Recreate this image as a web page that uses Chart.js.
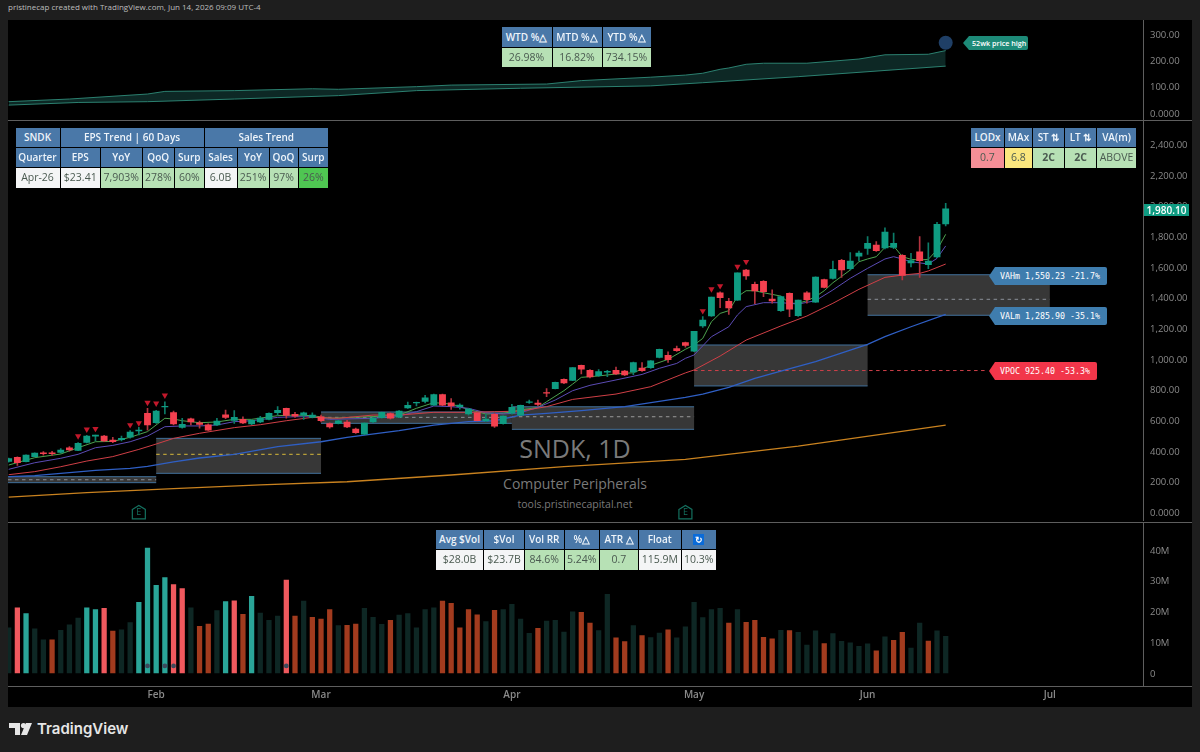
<!DOCTYPE html>
<html>
<head>
<meta charset="utf-8">
<title>SNDK, 1D</title>
<script src="https://cdn.jsdelivr.net/npm/chart.js@4/dist/chart.umd.min.js"></script>
<style>
  html, body { margin: 0; padding: 0; background: #1e1e1e; width: 1200px; height: 752px; overflow: hidden; }
  body { font-family: "Open Sans", sans-serif; position: relative; }
  #pane { position: absolute; left: 8px; top: 20px; width: 1184px; height: 687px; background: #000; }
  canvas { position: absolute; left: 8px; }
  .sep { position: absolute; left: 8px; width: 1184px; height: 1px; background: #5e5e5e; }
  .cell { position: absolute; text-align: center; font-size: 10.5px; white-space: nowrap; color: #4a5a50; }
  .head { background: #4a78a8; color: #eef4fa; font-weight: 600; font-size: 10px; }
  .tag { position: absolute; color: #fff; font-family: "DejaVu Sans Mono", monospace; font-size: 8.3px; line-height: 18px; height: 18px;
         clip-path: polygon(6px 0, 100% 0, 100% 100%, 6px 100%, 0 50%); padding-left: 11px; box-sizing: border-box; border-radius: 2px; }
  .mark { position: absolute; text-align: center; color: #7a7a7a; white-space: nowrap; }
</style>
</head>
<body>
<div id="pane"></div>
<div style="position:absolute;left:8px;top:0;font-size:8px;line-height:14px;color:#bdbdbd">pristinecap created with TradingView.com, Jun 14, 2026 09:09 UTC-4</div>
<div class="mark" style="left:475px;width:200px;top:429px;font-size:25px;line-height:38px">SNDK, 1D</div>
<div class="mark" style="left:475px;width:200px;top:474px;font-size:14px;line-height:20px">Computer Peripherals</div>
<div class="mark" style="left:475px;width:200px;top:497px;font-size:10.5px;line-height:15px">tools.pristinecapital.net</div>
<canvas id="topChart" width="1184" height="100" style="top:20px"></canvas>
<canvas id="mainChart" width="1184" height="400" style="top:121px"></canvas>
<canvas id="volChart" width="1184" height="184" style="top:523px"></canvas>
<div class="sep" style="top:120px"></div>
<div class="sep" style="top:522px"></div>
<div class="sep" style="top:686px"></div>
<svg style="position:absolute;left:9px;top:722px" width="24" height="14" viewBox="0 0 24 14">
  <path d="M0 1h11v12H6V6H0z" fill="#e6e6e6"/><circle cx="14.5" cy="3.6" r="2.6" fill="#e6e6e6"/><path d="M17 1h6l-5 12h-6z" fill="#e6e6e6"/>
</svg>
<div style="position:absolute;left:37px;top:718px;font-family:Inter,sans-serif;font-weight:600;font-size:15px;line-height:22px;color:#e6e6e6">TradingView</div>

<script>
// bars are trading days, index 0 is the first bar on the left edge
const months = ['Feb', 'Mar', 'Apr', 'May', 'Jun', 'Jul'];
const monthBars = [17, 36, 58, 79, 99, 120];
const earningsBars = [15, 78];

const priceTicks = [2400, 2200, 2000, 1800, 1600, 1400, 1200, 1000, 800, 600, 400, 200, 0];
const topTicks = [300, 200, 100, 0];
const volTicks = [40, 30, 20, 10, 0];

const opens = [333,359,331,364,389,389,392,422,405,457,498,498,472,474,490,531,646,585,688,651,555,611,585,572,570,637,600,607,577,590,607,650,679,640,635,620,624,579,581,590,544,511,590,618,644,622,681,714,724,700,768,714,690,642,650,596,640,579,648,635,718,713,781,807,868,861,959,927,892,914,927,922,916,942,944,1011,1024,1068,1107,1051,1216,1281,1433,1377,1385,1581,1488,1507,1392,1316,1429,1283,1433,1372,1518,1527,1644,1590,1672,1722,1744,1725,1729,1677,1627,1699,1616,1666,1881];
const highs = [355,363,376,389,396,398,416,429,455,503,505,503,490,498,533,555,679,666,722,661,614,616,596,578,614,668,664,624,605,627,650,690,681,653,655,650,635,585,600,600,550,585,620,655,650,664,720,720,764,772,772,742,709,679,655,640,646,630,705,700,733,733,807,850,872,945,961,931,931,927,948,927,981,977,990,1065,1048,1085,1111,1181,1277,1405,1438,1396,1563,1585,1503,1512,1451,1411,1433,1385,1440,1537,1522,1640,1651,1694,1705,1799,1766,1857,1822,1681,1690,1799,1759,1892,2016];
const lows = [327,307,329,362,374,372,387,400,403,453,466,461,455,466,485,505,537,581,642,570,550,570,550,535,566,611,581,579,572,585,603,635,614,620,607,616,590,550,577,553,515,507,585,614,609,618,679,694,714,698,696,672,674,635,597,592,555,576,640,632,711,694,755,805,840,859,903,877,887,885,898,892,898,920,940,1008,979,1050,1077,1049,1207,1279,1335,1292,1383,1520,1362,1407,1364,1311,1277,1279,1364,1370,1464,1522,1533,1581,1642,1683,1703,1718,1720,1516,1601,1533,1590,1662,1868];
const closes = [351,324,374,387,383,383,407,407,450,498,505,466,461,483,524,537,570,661,692,577,574,590,574,537,596,620,620,583,600,616,646,666,633,627,650,635,598,557,598,557,520,583,616,653,614,661,698,718,748,768,700,694,700,674,598,609,563,629,685,698,722,705,777,848,844,944,935,883,918,920,903,896,977,924,988,1064,996,1055,1090,1181,1255,1405,1401,1333,1562,1542,1444,1440,1379,1407,1325,1385,1388,1535,1468,1585,1581,1640,1692,1755,1707,1829,1755,1546,1642,1642,1640,1879,1980.1];

// volume in millions, and its colour class per bar
const volumes = [14.7,21.2,19.3,14.4,10.8,10.8,13.9,15.7,17.9,21.2,20.6,21,13.6,14,16.4,23,40.6,28.5,31,28.8,27.5,21.2,15.2,15.9,20.3,23.2,23.5,19.1,24.9,19.5,17.1,18.5,30.2,18.5,23.4,18.1,17.5,20.6,15.4,15.5,15.9,21,18.1,15.8,17.1,18.8,19.3,14.7,20.6,21.2,23.4,22.7,14.7,20.6,18.9,16.7,20.4,20.6,22.3,17.5,12.9,14.5,16.9,17.1,13.3,19.9,19.7,16.2,13.8,25.6,11.4,10.2,15.4,12.2,11.5,13,14,11.4,15,23,18,20.6,21,16.2,20.6,16.5,17.1,11.6,11.1,13.9,13.8,13.2,9.1,13.7,9.6,12.8,10.3,9.8,8.7,9.5,7.2,11.8,10.6,13.2,8.1,16.2,10.4,13.7,11.9];
const volKinds = ['d','r','t','d','d','o','d','d','d','t','t','r','o','d','d','t','t','t','t','r','r','d','o','o','d','t','r','o','t','d','d','d','r','o','d','o','o','o','d','o','o','d','d','d','o','d','d','d','d','d','o','o','o','o','o','d','o','d','d','d','d','o','d','d','d','d','o','o','d','d','o','o','d','o','d','d','o','d','d','d','d','d','d','o','d','o','o','o','o','d','o','d','d','d','o','d','d','d','d','d','o','d','o','o','d','d','o','d','d'];
const volDotBars = [16, 18, 19, 32];
const volDotValue = 2.3;

// moving averages, read at the bars below
const fastBars = [0,3,6,8,10,12,14,16,18,19,20,22,24,26,28,31,33,35,37,42,45,47,49,51,53,55,57,59,61,62,64,65,66,68,70,72,74,76,78,79,80,81,82,83,84,85,86,87,89,90,91,92,93,94,95,97,98,99,100,101,102,103,104,105,106,107,108];
const fastVals = [309,357,381,422,461,463,490,527,614,609,598,585,590,607,607,631,635,631,614,625,635,679,716,707,672,642,646,668,685,722,794,837,881,890,903,911,959,998,1064,1092,1135,1244,1298,1316,1407,1446,1446,1433,1411,1364,1364,1381,1407,1446,1498,1581,1635,1653,1668,1729,1738,1668,1651,1646,1651,1712,1814];
const midBars = [0,3,6,8,10,12,14,16,18,20,22,24,26,28,31,33,35,37,42,45,47,49,51,53,55,57,59,61,63,65,67,70,73,75,77,78,79,81,83,84,85,87,89,91,93,95,97,99,101,102,103,104,106,107,108];
const midVals = [281,324,353,379,422,437,461,498,559,564,564,570,592,598,620,624,624,607,614,629,657,694,690,679,650,642,650,685,733,794,829,864,900,940,972,1005,1027,1146,1211,1288,1342,1368,1368,1359,1381,1451,1527,1592,1653,1668,1653,1635,1620,1657,1738];
const slowBars = [0,3,6,9,12,15,17,19,22,26,29,32,35,38,42,45,49,53,56,59,62,65,70,74,78,79,82,85,89,92,95,98,101,103,105,106,108];
const slowVals = [246,266,298,335,364,411,446,483,516,553,572,598,620,614,635,635,653,653,657,661,690,737,772,820,910,929,1020,1124,1216,1281,1364,1455,1533,1548,1559,1575,1620];
const longBars = [0,3,6,10,14,16,19,22,26,31,36,39,45,49,53,56,59,62,66,71,78,80,83,86,89,93,99,101,104,108];
const longVals = [233,240,255,274,287,300,329,355,379,429,461,490,533,570,592,598,635,646,664,690,751,772,816,874,922,983,1096,1146,1211,1292];
const yearBars = [0,9,19,29,39,51,64,78,91,108];
const yearVals = [100,129,155,179,200,244,298,346,433,570];

// sell signal markers above the candles
const signalBars = [8,9,10,14,15,16,17,18,80,81,82,84,85];
const signalVals = [498,542,546,570,583,716,711,764,1314,1457,1477,1603,1635];

// volume profile boxes per period
const boxStart = [-0.08,17,36,58,79,99];
const boxEnd = [17,36,58,79,99,120];
const boxHigh = [233,483,655,689,1092,1550.23];
const boxLow = [194,255,581,542,825,1285.9];
const boxMid = [213,379,620,624,925.4,1390];
const boxMidColors = ['#8a8f98','#d8b93a','#8a8f98','#9a9a9a','#d0404a','#8a8f98'];

// 52 week high pane
const highBandBars = [0,7,16,18,26,35,38,47,51,62,66,74,78,80,82,83,85,87,92,98,101,106,108];
const highBandVals = [43,53,72,82,85,92,90,100,106,110,123,136,144,151,166,171,185,189,189,205,221,223,237];
const lowBandBars = [0,8,16,26,38,47,59,74,80,91,108];
const lowBandVals = [30,40,43,53,66,85,94,103,115,138,178];
const highMarkBar = 108;
const highMarkValue = 267;

// stat tables
const wtdHead = ['WTD %△', 'MTD %△', 'YTD %△'];
const wtdRow = ['26.98%', '16.82%', '734.15%'];
const epsHeadA = ['SNDK', 'EPS Trend | 60 Days', 'Sales Trend'];
const epsHeadB = ['Quarter', 'EPS', 'YoY', 'QoQ', 'Surp', 'Sales', 'YoY', 'QoQ', 'Surp'];
const epsRow = ['Apr-26', '$23.41', '7,903%', '278%', '60%', '6.0B', '251%', '97%', '26%'];
const lodHead = ['LODx', 'MAx', 'ST ⇅', 'LT ⇅', 'VA(m)'];
const lodRow = ['0.7', '6.8', '2C', '2C', 'ABOVE'];
const volHead = ['Avg $Vol', '$Vol', 'Vol RR', '%△', 'ATR △', 'Float', '↻'];
const volRow = ['$28.0B', '$23.7B', '84.6%', '5.24%', '0.7', '115.9M', '10.3%'];

const GREEN = '#b7e1b5', WHITE = '#f4f5f6', PINK = '#f58f97', YELLOW = '#fbe77e', BRIGHT = '#4fc652';

function addCell(x0, x1, y0, y1, text, cls, bg) {
    const d = document.createElement('div');
    d.className = 'cell ' + (cls || '');
    d.textContent = text;
    d.style.left = (x0 + 0.5) + 'px';
    d.style.width = (x1 - x0 - 1) + 'px';
    d.style.top = y0 + 'px';
    d.style.height = (y1 - y0 - 1) + 'px';
    d.style.lineHeight = (y1 - y0 - 1) + 'px';
    if (bg) d.style.background = bg;
    document.body.appendChild(d);
    return d;
}

function addRow(edges, y0, y1, texts, cls, bgs) {
    return texts.map((t, i) => addCell(edges[i], edges[i + 1], y0, y1, t, cls, bgs ? bgs[i] : null));
}

addRow([501, 552, 602, 651], 27, 48, wtdHead, 'head');
addRow([501, 552, 602, 651], 48, 68, wtdRow, '', [GREEN, GREEN, GREEN]);

const epsEdges = [15, 60, 100.5, 142, 174.5, 204, 237, 269, 298, 328.5];
addRow([15, 60, 204, 328.5], 127.5, 148, epsHeadA, 'head');
addRow(epsEdges, 148, 168, epsHeadB, 'head');
addRow(epsEdges, 168, 188.5, epsRow, '', [WHITE, WHITE, GREEN, GREEN, GREEN, WHITE, GREEN, GREEN, BRIGHT]);

const lodEdges = [970.5, 1004.5, 1032.5, 1064.5, 1096.5, 1136.5];
addRow(lodEdges, 127.5, 148, lodHead, 'head');
const lodCells = addRow(lodEdges, 148, 168.5, lodRow, '', [PINK, YELLOW, GREEN, GREEN, GREEN]);
lodCells[2].style.fontWeight = lodCells[3].style.fontWeight = '700';

const volEdges = [435.5, 483.5, 524.5, 564, 599.5, 638.5, 681, 716.5];
const volHeadCells = addRow(volEdges, 530, 550, volHead, 'head');
volHeadCells[6].innerHTML = '<span style="display:inline-block;width:11px;height:11px;line-height:11px;background:#0a6bd8;color:#fff;font-size:9px;font-weight:700">↻</span>';
addRow(volEdges, 550, 570.5, volRow, '', [WHITE, WHITE, GREEN, GREEN, GREEN, WHITE, WHITE]);

function addTag(left, top, width, color, text) {
    const d = document.createElement('div');
    d.className = 'tag';
    d.textContent = text;
    d.style.left = left + 'px';
    d.style.top = top + 'px';
    d.style.width = width + 'px';
    d.style.background = color;
    document.body.appendChild(d);
    return d;
}
addTag(989, 267, 118, '#3f7dae', 'VAHm 1,550.23 -21.7%');
addTag(989, 307, 118, '#3f7dae', 'VALm 1,285.90 -35.1%');
addTag(989, 362, 108, '#f2364a', 'VPOC 925.40 -53.3%');
const hi = addTag(963, 36, 65, '#1d8a78', '52wk price high');
hi.style.height = '14px';
hi.style.lineHeight = '14px';
hi.style.fontFamily = '"Open Sans", sans-serif';
hi.style.fontSize = '7.2px';
hi.style.fontWeight = '600';
hi.style.paddingLeft = '9px';
const last = addCell(1143.5, 1189.5, 203.5, 217, '1,980.10', '', '#0f9b82');
last.style.color = '#fff';
last.style.fontSize = '10px';
last.style.fontWeight = '600';

const pts = (bars, vals) => bars.map((b, i) => ({ x: b, y: vals[i] }));

// same x range and same axis width in all three panes
const xRange = { min: -0.08, max: 130.8 };
const noPad = s => { s.paddingLeft = 0; s.paddingRight = 0; s.paddingTop = 0; s.paddingBottom = 0; };

function yAxis(min, max, ticks, fmt) {
    return {
        position: 'right', min, max,
        afterBuildTicks: s => { s.ticks = ticks.map(v => ({ value: v })); },
        afterFit: s => { s.width = 48.5; noPad(s); },
        grid: { display: false, drawTicks: false },
        border: { display: true, color: '#5e5e5e' },
        ticks: { color: '#8a8a8a', padding: 6.5, labelOffset: 1, font: { family: '"Open Sans"', size: 9.5 }, callback: fmt }
    };
}

function xHidden() {
    return { type: 'linear', offset: false, display: false, min: xRange.min, max: xRange.max, afterFit: noPad };
}

const baseOptions = {
    responsive: false,
    animation: false,
    layout: { padding: 0, autoPadding: false },
    plugins: { legend: { display: false }, tooltip: { enabled: false } }
};

const priceLabel = v => v === 0 ? '0.0000' : v.toLocaleString('en-US', { minimumFractionDigits: 2, maximumFractionDigits: 2 });

new Chart(document.getElementById('topChart').getContext('2d'), {
    type: 'line',
    data: {
        datasets: [
            { data: pts(highBandBars, highBandVals), borderColor: '#2c8070', borderWidth: 1, pointRadius: 0, tension: 0, fill: 1, backgroundColor: '#0d2825', order: 3 },
            { data: pts(lowBandBars, lowBandVals), borderColor: '#2c8070', borderWidth: 1, pointRadius: 0, tension: 0, order: 2 },
            { type: 'scatter', data: [{ x: highMarkBar, y: highMarkValue }], pointRadius: 7, pointBackgroundColor: '#1f3f66', pointBorderWidth: 0, order: 1 }
        ]
    },
    options: {
        ...baseOptions,
        scales: { x: xHidden(), y: yAxis(-26.6, 353.2, topTicks, priceLabel) }
    }
});

// value area boxes under the candles and the earnings badges along the bottom
const boxPlugin = {
    id: 'boxes',
    beforeDatasetsDraw(chart) {
        const { ctx, scales: { x, y } } = chart;
        ctx.save();
        boxStart.forEach((b, i) => {
            const x0 = x.getPixelForValue(b), x1 = x.getPixelForValue(boxEnd[i]);
            const y0 = y.getPixelForValue(boxHigh[i]), y1 = y.getPixelForValue(boxLow[i]);
            ctx.fillStyle = '#373737';
            ctx.fillRect(x0, y0, x1 - x0, y1 - y0);
            ctx.strokeStyle = '#41709b';
            ctx.lineWidth = 1;
            ctx.beginPath();
            ctx.moveTo(x0, y0); ctx.lineTo(x1, y0);
            ctx.moveTo(x0, y1); ctx.lineTo(x1, y1);
            ctx.stroke();
            const ym = y.getPixelForValue(boxMid[i]);
            ctx.strokeStyle = boxMidColors[i];
            ctx.setLineDash([3.5, 3.5]);
            ctx.beginPath();
            ctx.moveTo(x0, ym);
            // the last developed VPOC line runs on to its label
            ctx.lineTo(i === 4 ? x.getPixelForValue(112.8) : x1, ym);
            ctx.stroke();
            ctx.setLineDash([]);
        });
        ctx.restore();
    },
    afterDatasetsDraw(chart) {
        const { ctx, scales: { x, y } } = chart;
        ctx.save();
        earningsBars.forEach(b => {
            const cx = x.getPixelForValue(b), cy = y.getPixelForValue(0);
            ctx.strokeStyle = '#14705f';
            ctx.lineWidth = 1.2;
            ctx.beginPath();
            ctx.moveTo(cx - 6.5, cy - 3); ctx.lineTo(cx, cy - 7); ctx.lineTo(cx + 6.5, cy - 3);
            ctx.lineTo(cx + 6.5, cy + 6.5); ctx.lineTo(cx - 6.5, cy + 6.5); ctx.closePath();
            ctx.stroke();
            ctx.fillStyle = '#14705f';
            ctx.font = '9px "Open Sans"';
            ctx.textAlign = 'center';
            ctx.textBaseline = 'middle';
            ctx.fillText('E', cx, cy + 0.5);
        });
        ctx.restore();
    }
};

const barIdx = opens.map((_, i) => i);
const candleColor = opens.map((o, i) => closes[i] >= o ? '#0f9c82' : '#f4404f');
const wickColor = opens.map((o, i) => closes[i] >= o ? '#0c7c68' : '#b3333f');

function maLine(bars, vals, color, width) {
    return { type: 'line', data: pts(bars, vals), borderColor: color, borderWidth: width, pointRadius: 0, tension: 0, order: 5 };
}

new Chart(document.getElementById('mainChart').getContext('2d'), {
    type: 'bar',
    data: {
        datasets: [
            maLine(yearBars, yearVals, '#c9821f', 1.3),
            maLine(longBars, longVals, '#2f5fc4', 1.3),
            maLine(slowBars, slowVals, '#cf3f46', 1),
            maLine(midBars, midVals, '#5b4bb4', 1),
            maLine(fastBars, fastVals, '#4da24f', 1),
            { data: barIdx.map(i => ({ x: i, y: [lows[i], highs[i]] })), backgroundColor: wickColor, barThickness: 1, grouped: false, order: 4 },
            { data: barIdx.map(i => ({ x: i, y: [opens[i], closes[i]] })), backgroundColor: candleColor, barThickness: 6.2, grouped: false, order: 3 },
            { type: 'scatter', data: pts(signalBars, signalVals), pointStyle: 'triangle', rotation: 180, pointRadius: 3.6, pointBackgroundColor: '#c2182b', pointBorderWidth: 0, order: 1 }
        ]
    },
    options: {
        ...baseOptions,
        scales: { x: xHidden(), y: yAxis(-56, 2553, priceTicks, priceLabel) }
    },
    plugins: [boxPlugin]
});

const volColor = { t: '#2aa598', r: '#f0595e', d: '#0e2724', o: '#a23b1e' };

new Chart(document.getElementById('volChart').getContext('2d'), {
    type: 'bar',
    data: {
        datasets: [
            { data: barIdx.map(i => ({ x: i, y: volumes[i] })), backgroundColor: volKinds.map(k => volColor[k]), barThickness: 4.6, grouped: false, order: 2 },
            { type: 'scatter', data: volDotBars.map(b => ({ x: b, y: volDotValue })), pointRadius: 2.4, pointBackgroundColor: '#3c4a5c', pointBorderWidth: 0, order: 1 }
        ]
    },
    options: {
        ...baseOptions,
        scales: {
            x: {
                type: 'linear', offset: false, min: xRange.min, max: xRange.max,
                afterBuildTicks: s => { s.ticks = monthBars.map(v => ({ value: v })); },
                afterFit: s => { s.height = 20.5; noPad(s); },
                grid: { display: false, drawTicks: false },
                border: { display: false },
                ticks: {
                    color: '#8a8a8a', padding: 3, maxRotation: 0, autoSkip: false,
                    font: { family: '"Open Sans"', size: 10, weight: '600' },
                    callback: v => months[monthBars.indexOf(v)]
                }
            },
            y: yAxis(-4.4, 48.8, volTicks, v => v === 0 ? '0' : v + 'M')
        }
    }
});
</script>
</body>
</html>
